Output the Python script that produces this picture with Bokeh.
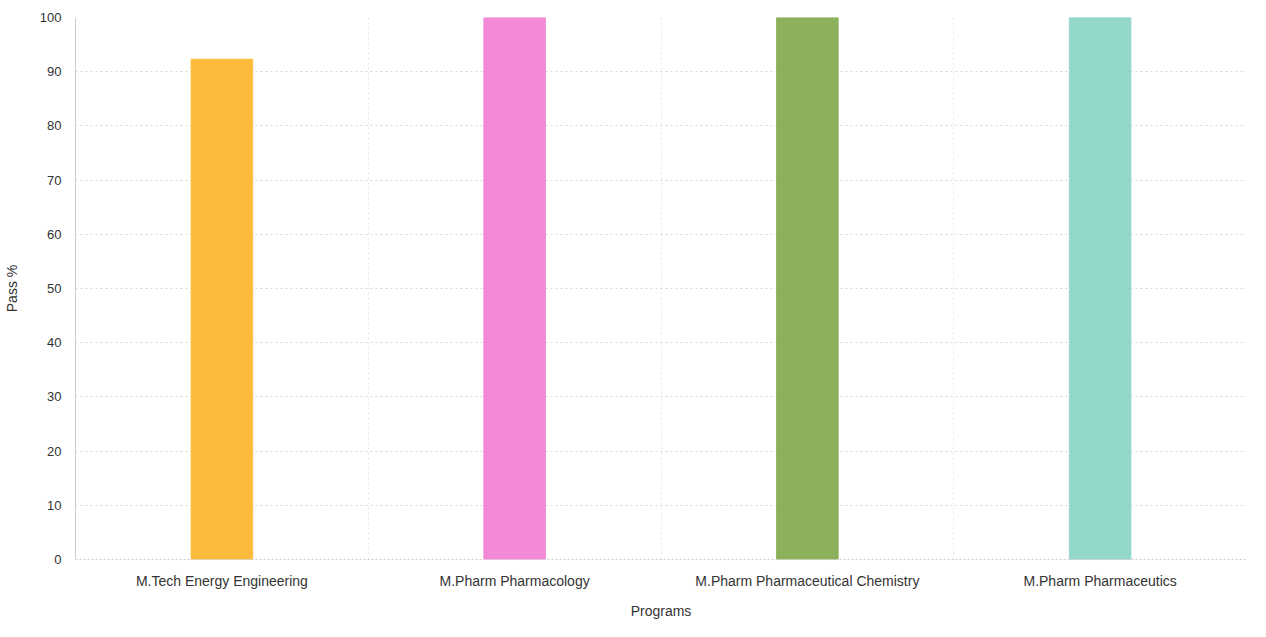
import numpy as np
from bokeh.plotting import figure
from bokeh.models import ColumnDataSource, FixedTicker, Range1d
from bokeh.embed import file_html
from bokeh.resources import INLINE

programs = ["M.Tech Energy Engineering", "M.Pharm Pharmacology",
            "M.Pharm Pharmaceutical Chemistry", "M.Pharm Pharmaceutics"]
pass_pct = [92.3, 100, 100, 100]
colors = ["#FDBB3B", "#F28AD8", "#8DB15A", "#93D8C8"]
y_ticks = list(range(0, 101, 10))

xpos = np.arange(len(programs)) + 0.5
src = ColumnDataSource(dict(x=xpos, top=pass_pct, color=colors, name=programs))

p = figure(width=1250, height=621, output_backend="svg", toolbar_location=None,
           x_range=Range1d(0, len(programs)), y_range=Range1d(0, 100),
           min_border_left=75, min_border_top=17, min_border_right=4, min_border_bottom=49)
p.outline_line_color = None
p.vbar(x="x", top="top", width=0.21, color="color", source=src)

font = "Liberation Sans"
p.xaxis.ticker = FixedTicker(ticks=list(xpos))
p.xaxis.major_label_overrides = {float(x): n for x, n in zip(xpos, programs)}
p.yaxis.ticker = FixedTicker(ticks=y_ticks)
p.xgrid.ticker = FixedTicker(ticks=list(range(0, len(programs) + 1)))

for ax in (p.xaxis, p.yaxis):
    ax.major_label_text_font = font
    ax.major_label_text_color = "#333333"
    ax.axis_label_text_font = font
    ax.axis_label_text_font_size = "14px"
    ax.axis_label_text_font_style = "normal"
    ax.axis_label_text_color = "#333333"
    ax.major_tick_line_color = None
    ax.minor_tick_line_color = None
    ax.axis_line_color = "#cccccc"

p.xaxis.major_label_text_font_size = "14px"
p.yaxis.major_label_text_font_size = "13px"
p.xaxis.axis_label = "Programs"
p.yaxis.axis_label = "Pass %"
p.xaxis.major_label_standoff = 7
p.xaxis.axis_label_standoff = 11
p.yaxis.major_label_standoff = 8
p.yaxis.axis_label_standoff = 17
p.xaxis.axis_line_dash = "2 2"

p.ygrid.grid_line_color = "#d8d8d8"
p.ygrid.grid_line_dash = "2 3"
p.xgrid.grid_line_color = "#e6e6e6"
p.xgrid.grid_line_dash = "2 3"

open("out.html", "w").write(file_html(p, INLINE))
